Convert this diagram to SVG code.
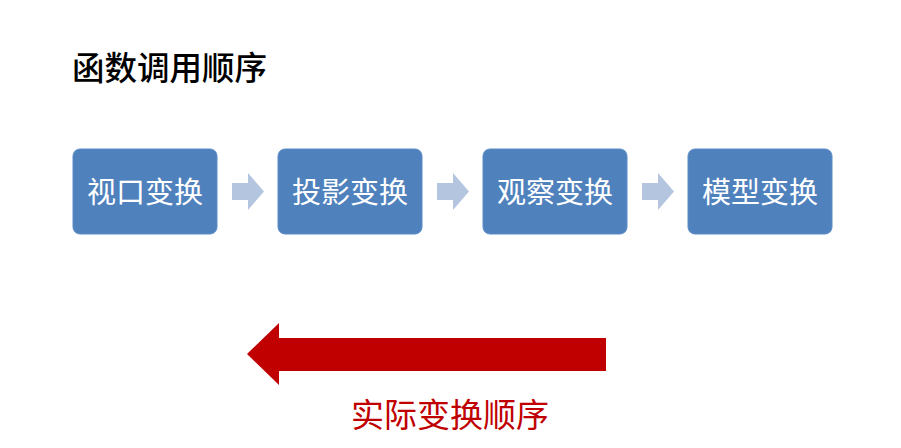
<svg xmlns="http://www.w3.org/2000/svg" width="901" height="448" viewBox="0 0 901 448">
<defs>
<style>
.box{fill:#4F81BD;stroke:#5B8CC6;stroke-width:1}
.bt{font-family:"Noto Sans CJK SC","Noto Sans",sans-serif;font-size:29px;fill:#FFFFFF;text-anchor:middle;dominant-baseline:central}
.sa{fill:#B4C5E0}
.title{font-family:"Noto Sans CJK SC","Noto Sans",sans-serif;font-size:32.5px;fill:#000000;font-weight:500}
.red{fill:#C00000}
.rt{font-family:"Noto Sans CJK SC","Noto Sans",sans-serif;font-size:33px;fill:#C00000;text-anchor:middle;dominant-baseline:central}
</style>
</defs>
<rect width="901" height="448" fill="#FFFFFF"/>
<g id="title"><text class="title" x="72" y="65" dominant-baseline="central">函数调用顺序</text></g>
<g id="n1"><rect class="box" x="73" y="149" width="144" height="85" rx="7"/><text class="bt" x="145" y="190">视口变换</text></g>
<g id="n2"><rect class="box" x="278" y="149" width="144" height="85" rx="7"/><text class="bt" x="350" y="190">投影变换</text></g>
<g id="n3"><rect class="box" x="483" y="149" width="144" height="85" rx="7"/><text class="bt" x="555" y="190">观察变换</text></g>
<g id="n4"><rect class="box" x="688" y="149" width="144" height="85" rx="7"/><text class="bt" x="760" y="190">模型变换</text></g>
<g id="connectors">
<path class="sa" d="M232,183 H248 V173 L264,191.5 L248,210 V200 H232 Z"/>
<path class="sa" d="M437,183 H453 V173 L469,191.5 L453,210 V200 H437 Z"/>
<path class="sa" d="M642,183 H658 V173 L674,191.5 L658,210 V200 H642 Z"/>
<path class="red" d="M606,338 H279 V323 L247,354 L279,385 V371 H606 Z"/>
</g>
<g id="label"><text class="rt" x="450" y="413">实际变换顺序</text></g>
</svg>
